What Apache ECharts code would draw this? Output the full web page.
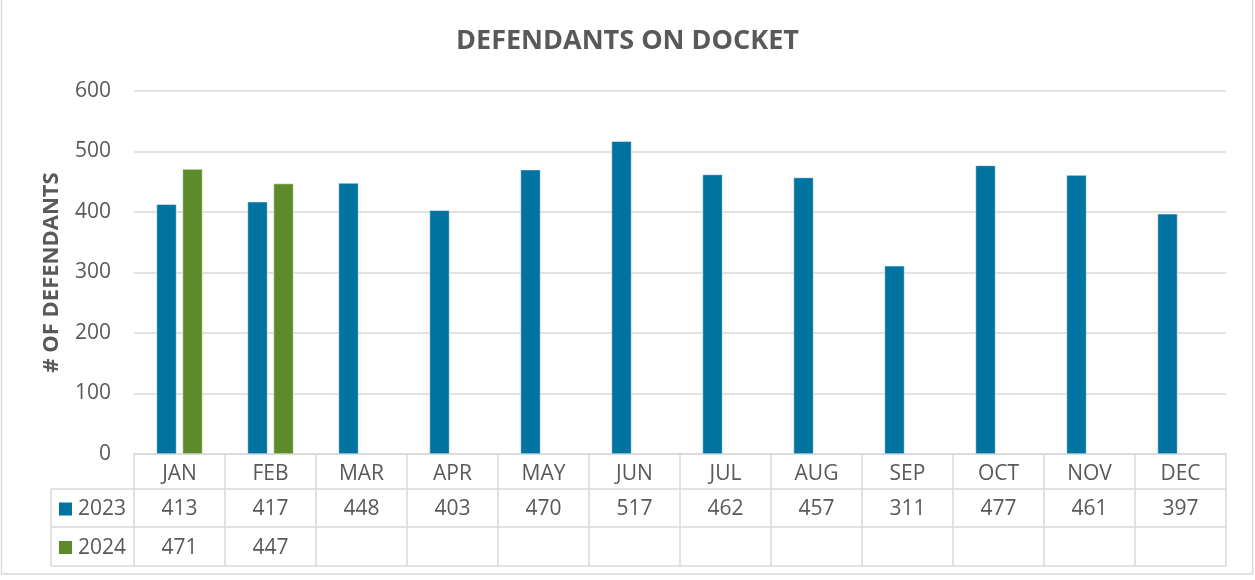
<!DOCTYPE html>
<html>
<head>
<meta charset="utf-8">
<script src="https://cdn.jsdelivr.net/npm/echarts@6/dist/echarts.min.js"></script>
<style>
  html, body { margin: 0; padding: 0; background: #fff; }
  #chart { width: 1255px; height: 580px; }
</style>
</head>
<body>
<div id="chart"></div>
<script>
const months = ['JAN', 'FEB', 'MAR', 'APR', 'MAY', 'JUN', 'JUL', 'AUG', 'SEP', 'OCT', 'NOV', 'DEC'];
const values2023 = [413, 417, 448, 403, 470, 517, 462, 457, 311, 477, 461, 397];
const values2024 = [471, 447, null, null, null, null, null, null, null, null, null, null];
const seriesNames = ['2023', '2024'];
const yTicks = [0, 100, 200, 300, 400, 500, 600];

const colors = ['#0073A0', '#5E8B2A'];
const textColor = '#595959';
const lineColor = '#d9d9d9';
const font = '"Open Sans", "Noto Sans", sans-serif';

const myChart = echarts.init(document.getElementById('chart'));

const option = {
  animation: false,
  color: colors,
  title: {
    text: 'DEFENDANTS ON DOCKET',
    left: 'center',
    top: 23,
    textStyle: { fontFamily: font, fontSize: 27, fontWeight: 'bold', color: textColor }
  },
  grid: { left: 134, right: 29, top: 91, bottom: 126 },
  xAxis: {
    type: 'category',
    data: months,
    axisTick: { show: false },
    axisLine: { lineStyle: { color: lineColor, width: 1.5 } },
    axisLabel: { margin: 10, fontFamily: font, fontSize: 21, color: textColor }
  },
  yAxis: {
    type: 'value',
    min: yTicks[0],
    max: yTicks[yTicks.length - 1],
    interval: 100,
    name: '# OF DEFENDANTS',
    nameLocation: 'middle',
    nameGap: 71,
    nameTextStyle: { fontFamily: font, fontSize: 22, fontWeight: 'bold', color: textColor },
    axisLabel: { margin: 23, fontFamily: font, fontSize: 21, color: textColor },
    splitLine: { lineStyle: { color: lineColor, width: 1.5 } }
  },
  series: [
    {
      name: seriesNames[0], type: 'bar', data: values2023,
      barWidth: 20, barGap: '30%',
      itemStyle: { borderColor: '#ffffff', borderWidth: 0.5 }
    },
    {
      name: seriesNames[1], type: 'bar', data: values2024,
      barWidth: 20,
      itemStyle: { borderColor: '#ffffff', borderWidth: 0.5 }
    }
  ]
};

myChart.setOption(option);

// data table under the axis, positioned from the axis scale
function buildTable() {
  const x0 = myChart.convertToPixel({ xAxisIndex: 0 }, 0);
  const x1 = myChart.convertToPixel({ xAxisIndex: 0 }, 1);
  const band = x1 - x0;
  const left = x0 - band / 2;
  const right = left + band * months.length;
  const yAxisBottom = myChart.convertToPixel({ yAxisIndex: 0 }, 0);
  const rowTops = [yAxisBottom, yAxisBottom + 35, yAxisBottom + 73, yAxisBottom + 112];
  const legendLeft = 51;
  const stroke = { stroke: lineColor, lineWidth: 1.5 };
  const els = [];

  // outer chart border
  els.push({ type: 'rect', shape: { x: 1.5, y: -5, width: 1251, height: 579 }, style: { fill: null, stroke: lineColor, lineWidth: 1.5 }, silent: true });

  for (let i = 0; i <= months.length; i++) {
    const x = left + band * i;
    els.push({ type: 'line', shape: { x1: x, y1: rowTops[0], x2: x, y2: rowTops[3] }, style: stroke });
  }
  els.push({ type: 'line', shape: { x1: legendLeft, y1: rowTops[1], x2: legendLeft, y2: rowTops[3] }, style: stroke });
  for (let r = 1; r <= 3; r++) {
    els.push({ type: 'line', shape: { x1: legendLeft, y1: rowTops[r], x2: right, y2: rowTops[r] }, style: stroke });
  }

  const rows = [values2023, values2024];
  rows.forEach((vals, r) => {
    const cy = (rowTops[r + 1] + rowTops[r + 2]) / 2 + 1.5;
    els.push({ type: 'rect', shape: { x: 59, y: cy - 7, width: 13, height: 13 }, style: { fill: colors[r] } });
    els.push({ type: 'text', x: 78, y: cy, style: { text: seriesNames[r], fontFamily: font, fontSize: 21, fill: textColor, verticalAlign: 'middle' } });
    vals.forEach((v, i) => {
      if (v == null) return;
      els.push({
        type: 'text',
        x: myChart.convertToPixel({ xAxisIndex: 0 }, i),
        y: cy,
        style: { text: String(v), fontFamily: font, fontSize: 21, fill: textColor, align: 'center', verticalAlign: 'middle' }
      });
    });
  });

  myChart.setOption({ graphic: { elements: els } });
}

buildTable();
</script>
</body>
</html>
